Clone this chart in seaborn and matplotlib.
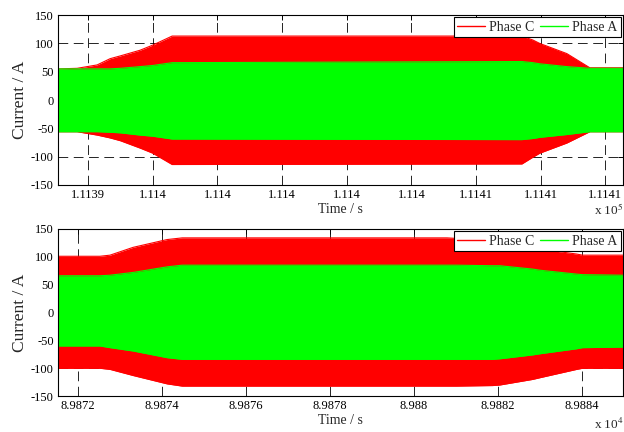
import numpy as np
import pandas as pd
import matplotlib
matplotlib.use("Agg")
import matplotlib.pyplot as plt
from matplotlib.lines import Line2D
from matplotlib.ticker import FixedLocator, FixedFormatter
import seaborn as sns

# ---------------- data (envelopes) ----------------
top_time = [111393.07, 111393.66, 111394.28, 111394.68, 111395.0, 111395.61, 111396.0,
            111396.6, 111407.42, 111407.76, 111407.97, 111408.81, 111409.52, 111410.54]
top_c_upper = [55, 56, 62, 73, 78, 88, 97, 113, 113, 106, 100, 82, 57, 57]
top_c_lower = [-56, -56, -62, -67, -72, -85, -94, -114, -113, -101, -94, -76, -56, -56]
top_a_upper = [55, 55, 55, 55, 56, 59, 61, 66, 68, 66, 64, 59, 56, 56]
top_a_lower = [-56, -56, -56, -57, -58, -62, -64, -69, -70, -68, -66, -61, -56, -56]
top_ticks = [111394, 111396, 111398, 111400, 111402, 111404, 111406, 111408, 111410]
top_tick_labels = ["1.1139", "1.114", "1.114", "1.114", "1.114", "1.114", "1.1141", "1.1141", "1.1141"]
top_xlim = [111393.07, 111410.54]

bot_time = [89871.52, 89872.52, 89872.76, 89873.31, 89874.12, 89874.48, 89880.79, 89881.02,
            89881.88, 89882.05, 89882.83, 89883.0, 89883.88, 89884.02, 89884.98]
bot_c_upper = [101, 101, 103, 117, 131, 134, 134, 133, 128, 125, 116, 114, 105, 103, 103]
bot_c_lower = [-100, -100, -102, -113, -128, -132, -132, -132, -131, -130, -120, -117, -102, -100, -100]
bot_a_upper = [66, 66, 67, 72, 82, 85, 85, 85, 84, 84, 78, 76, 69, 68, 67]
bot_a_lower = [-60, -60, -63, -69, -81, -84, -84, -84, -84, -83, -76, -74, -65, -63, -62]
bot_ticks = [89872, 89874, 89876, 89878, 89880, 89882, 89884]
bot_tick_labels = ["8.9872", "8.9874", "8.9876", "8.9878", "8.988", "8.9882", "8.9884"]
bot_xlim = [89871.52, 89884.98]

y_ticks = [-150, -100, -50, 0, 50, 100, 150]
series_names = ["Phase C", "Phase A"]
series_colors = ["#ff0000", "#00ff00"]
multipliers = ["x 10$^5$", "x 10$^4$"]

# ---------------- style ----------------
sns.set_theme(style="white")
plt.rcParams["font.family"] = ["Liberation Serif", "DejaVu Serif"]
plt.rcParams["mathtext.fontset"] = "stix"
plt.rcParams["lines.scale_dashes"] = False

fig = plt.figure(figsize=(6.24, 4.32), dpi=100)
ax_top = fig.add_axes([0.093, 0.572, 0.905, 0.393])
ax_bot = fig.add_axes([0.093, 0.083, 0.905, 0.387])


def draw(ax, t, cu, cl, au, al, ticks, labels, xlim):
    df = pd.DataFrame({"t": t, "cu": cu, "cl": cl, "au": au, "al": al})
    # Phase C envelope
    ax.fill_between(df["t"], df["cl"], df["cu"], color=series_colors[0], lw=0, zorder=2)
    sns.lineplot(data=df, x="t", y="cu", ax=ax, color=series_colors[0], lw=0.8, zorder=2)
    sns.lineplot(data=df, x="t", y="cl", ax=ax, color=series_colors[0], lw=0.8, zorder=2)
    # Phase A envelope
    ax.fill_between(df["t"], df["al"], df["au"], color=series_colors[1], lw=0, zorder=3)
    sns.lineplot(data=df, x="t", y="au", ax=ax, color=series_colors[1], lw=0.8, zorder=3)
    sns.lineplot(data=df, x="t", y="al", ax=ax, color=series_colors[1], lw=0.8, zorder=3)

    ax.set_xlim(xlim)
    ax.set_ylim(-150, 150)
    ax.xaxis.set_major_locator(FixedLocator(ticks))
    ax.xaxis.set_major_formatter(FixedFormatter(labels))
    ax.set_yticks(y_ticks)
    ax.set_yticklabels([str(v) for v in y_ticks])
    ax.grid(True, color="black", lw=0.6, linestyle=(0, (7, 4)), zorder=1)
    ax.set_axisbelow(True)
    ax.tick_params(direction="in", length=3.5, width=0.7, top=True, right=True,
                   labelsize=9, colors="black", pad=3)
    for s in ax.spines.values():
        s.set_color("black")
        s.set_linewidth(0.8)
        s.set_zorder(5)
    ax.set_xlabel("Time / s", fontsize=10, labelpad=1.5)
    ax.set_ylabel("Current / A", fontsize=12.5, labelpad=2)

    handles = [Line2D([0], [0], color=c, lw=1) for c in series_colors]
    leg = ax.legend(handles, series_names, loc="upper right", ncol=2, fontsize=10,
                    frameon=True, fancybox=False, edgecolor="black", framealpha=1,
                    borderaxespad=0.15, handlelength=2.0, handletextpad=0.3,
                    columnspacing=0.4, borderpad=0.25)
    leg.get_frame().set_linewidth(0.8)
    leg.set_zorder(6)


draw(ax_top, top_time, top_c_upper, top_c_lower, top_a_upper, top_a_lower,
     top_ticks, top_tick_labels, top_xlim)
draw(ax_bot, bot_time, bot_c_upper, bot_c_lower, bot_a_upper, bot_a_lower,
     bot_ticks, bot_tick_labels, bot_xlim)

fig.text(0.999, 1 - 215 / 432, multipliers[0], ha="right", va="baseline", fontsize=9.5)
fig.text(0.999, 1 - 429 / 432, multipliers[1], ha="right", va="baseline", fontsize=9.5)

fig.savefig("out.png", dpi=100)
